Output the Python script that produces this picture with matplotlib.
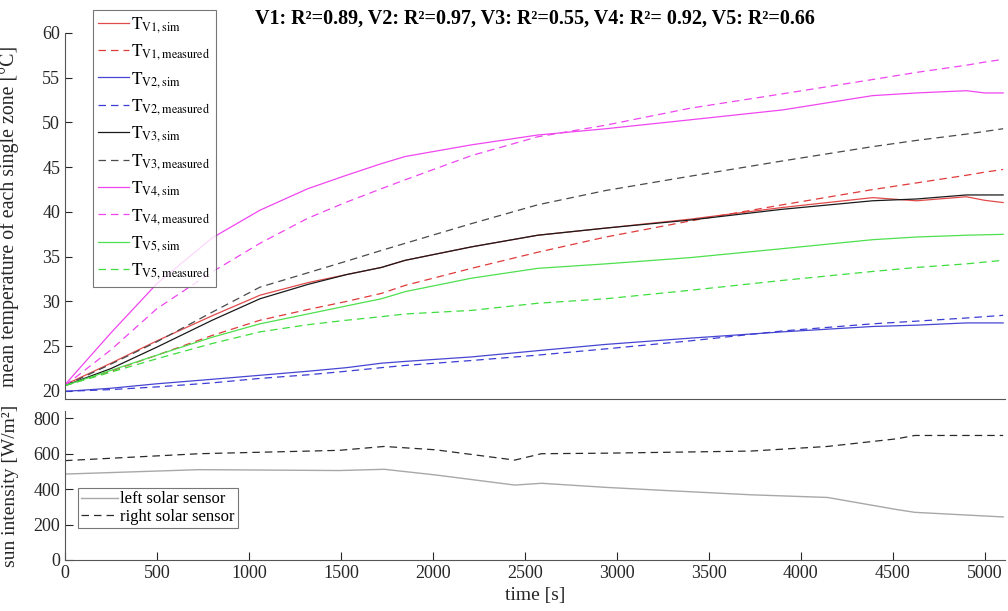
import matplotlib
matplotlib.use('Agg')
import matplotlib.pyplot as plt

# temperature curves
t_zone = [0, 250, 500, 800, 1060, 1320, 1530, 1720, 1850, 2210, 2570, 2940,
          3400, 3900, 4390, 4630, 4900, 5000, 5100]

v1_sim = [20.7, 23.1, 25.6, 28.4, 30.7, 32.1, 33.0, 33.8, 34.6, 36.1, 37.4, 38.2,
          39.2, 40.5, 41.6, 41.25, 41.7, 41.3, 41.05]
v1_meas = [20.6, 22.2, 24.0, 26.2, 27.9, 29.1, 30.0, 30.9, 31.8, 33.7, 35.5, 37.2,
           39.0, 40.8, 42.5, 43.25, 44.1, 44.45, 44.75]
v2_sim = [19.95, 20.3, 20.8, 21.3, 21.75, 22.2, 22.6, 23.1, 23.3, 23.8, 24.5, 25.2,
          25.9, 26.6, 27.2, 27.35, 27.6, 27.6, 27.6]
v2_meas = [19.95, 20.15, 20.45, 20.9, 21.4, 21.8, 22.2, 22.6, 22.85, 23.4, 24.0, 24.7,
           25.6, 26.7, 27.5, 27.8, 28.15, 28.3, 28.45]
v3_sim = [20.6, 22.5, 24.9, 27.9, 30.3, 31.9, 33.0, 33.8, 34.6, 36.1, 37.4, 38.2,
          39.1, 40.3, 41.25, 41.45, 41.9, 41.9, 41.9]
v3_meas = [20.6, 23.0, 25.5, 28.8, 31.6, 33.2, 34.5, 35.7, 36.5, 38.7, 40.8, 42.4,
           44.0, 45.7, 47.3, 48.0, 48.7, 49.0, 49.3]
v4_sim = [20.7, 26.5, 32.0, 37.1, 40.2, 42.6, 44.1, 45.4, 46.2, 47.5, 48.6, 49.3,
          50.3, 51.4, 53.0, 53.3, 53.55, 53.3, 53.3]
v4_meas = [20.6, 24.6, 29.2, 33.3, 36.5, 39.3, 41.1, 42.6, 43.6, 46.3, 48.4, 49.7,
           51.6, 53.2, 54.8, 55.6, 56.4, 56.75, 57.05]
v5_sim = [20.6, 22.3, 24.0, 26.0, 27.5, 28.6, 29.5, 30.3, 31.1, 32.6, 33.7, 34.2,
          34.9, 35.9, 36.9, 37.2, 37.4, 37.45, 37.5]
v5_meas = [20.6, 22.1, 23.6, 25.3, 26.6, 27.4, 27.9, 28.3, 28.6, 29.0, 29.8, 30.3,
           31.25, 32.35, 33.35, 33.8, 34.2, 34.4, 34.6]

# sun intensity
t_sun = [0, 730, 1490, 1735, 2015, 2445, 2590, 2940, 3270, 3730, 4145, 4520, 4620, 5100]
sun_left = [485, 510, 505, 512, 480, 423, 433, 410, 392, 368, 353, 285, 269, 243]
sun_right = [561, 600, 619, 641, 622, 564, 600, 603, 608, 615, 641, 684, 703, 703]

title_txt = 'V1: R²=0.89, V2: R²=0.97, V3: R²=0.55, V4: R²= 0.92, V5: R²=0.66'

plt.rcParams['font.family'] = ['Liberation Serif', 'DejaVu Serif']
plt.rcParams['mathtext.fontset'] = 'stix'
axc = '#262626'

fig = plt.figure(figsize=(10.08, 6.11), dpi=100)
ax1 = fig.add_axes([0.0645, 0.347, 0.9325, 0.599])
ax2 = fig.add_axes([0.0645, 0.0835, 0.9325, 0.2435])

dash = (6, 4)
zones = [
    (v1_sim, v1_meas, '#e24a4a', '#e03a3a', 'V1'),
    (v2_sim, v2_meas, '#4646d2', '#3c3cd6', 'V2'),
    (v3_sim, v3_meas, '#1a1a1a', '#4a4a4a', 'V3'),
    (v4_sim, v4_meas, '#f046f0', '#ee46ee', 'V4'),
    (v5_sim, v5_meas, '#4ee04e', '#3ede3e', 'V5'),
]
for sim, meas, c1, c2, name in zones:
    ax1.plot(t_zone, sim, color=c1, lw=0.9,
             label=r'$\mathrm{T}_{\mathrm{%s,sim}}$' % name)
    ax1.plot(t_zone, meas, color=c2, lw=0.9, dashes=dash,
             label=r'$\mathrm{T}_{\mathrm{%s,measured}}$' % name)

ax1.set_xlim(0, 5110)
ax1.set_ylim(19.1, 60)
ax1.set_yticks(range(20, 61, 5))
ax1.tick_params(axis='y', direction='in', length=5, colors=axc, labelsize=13)
ax1.tick_params(axis='x', bottom=False, labelbottom=False)
ax1.spines['top'].set_visible(False)
ax1.spines['right'].set_visible(False)
for s in ['left', 'bottom']:
    ax1.spines[s].set_color('#555555')
ax1.set_ylabel('mean temperature of each single zone [°C]', fontsize=14.3, color=axc)
ax1.yaxis.set_label_coords(-0.049, 0.5)
ax1.set_title(title_txt, fontweight='bold', fontsize=14.5, pad=7)

leg1 = ax1.legend(loc='upper left', bbox_to_anchor=(0.092, 0.984),
                  bbox_transform=fig.transFigure, fontsize=12.5, frameon=True,
                  fancybox=False, edgecolor='#555555', borderaxespad=0,
                  handlelength=1.8, handletextpad=0.12, labelspacing=0.43,
                  borderpad=0.3)
leg1.get_frame().set_linewidth(0.8)

ax2.plot(t_sun, sun_left, color='#a8a8a8', lw=1.0, label='left solar sensor')
ax2.plot(t_sun, sun_right, color='#2a2a2a', lw=0.9, dashes=dash, label='right solar sensor')
ax2.set_xlim(0, 5110)
ax2.set_ylim(0, 840)
ax2.set_yticks(range(0, 801, 200))
ax2.set_xticks(range(0, 5001, 500))
ax2.tick_params(direction='in', length=6, colors=axc, labelsize=13)
ax2.spines['top'].set_visible(False)
ax2.spines['right'].set_visible(False)
for s in ['left', 'bottom']:
    ax2.spines[s].set_color('#555555')
ax2.set_ylabel('sun intensity [W/m²]', fontsize=14, color=axc)
ax2.yaxis.set_label_coords(-0.049, 0.5)
ax2.set_xlabel('time [s]', fontsize=14, color=axc, labelpad=4)

leg2 = ax2.legend(loc='upper left', bbox_to_anchor=(0.0774, 0.2013),
                  bbox_transform=fig.transFigure, fontsize=12, frameon=True,
                  fancybox=False, edgecolor='#555555', borderaxespad=0,
                  handlelength=2.2, handletextpad=0.1, labelspacing=0.1,
                  borderpad=0.2)
leg2.get_frame().set_linewidth(0.8)

fig.savefig('out.png', dpi=100)
